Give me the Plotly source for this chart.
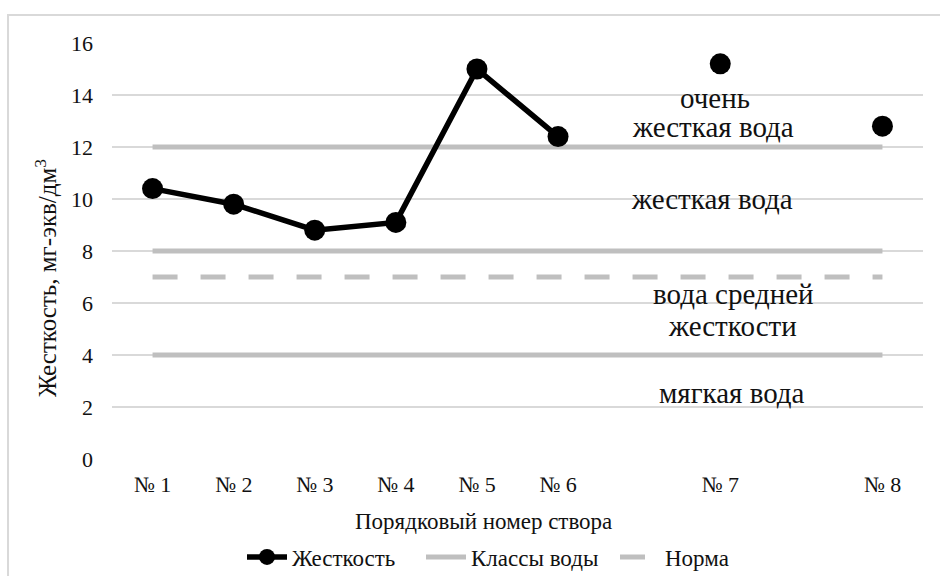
import plotly.graph_objects as go

# ---- data ----
stations = ["№ 1", "№ 2", "№ 3", "№ 4", "№ 5", "№ 6", "№ 7", "№ 8"]
station_pos = [1, 2, 3, 4, 5, 6, 8, 10]
hardness = [10.4, 9.8, 8.8, 9.1, 15.0, 12.4, 15.2, 12.8]
class_bounds = [12, 8, 4]
norm_value = 7
label_lines = ["очень", "жесткая вода", "жесткая вода", "вода средней", "жесткости", "мягкая вода"]
y_ticks = [0, 2, 4, 6, 8, 10, 12, 14, 16]

# label placement (layout, data coordinates)
label_x = [7.935, 7.91, 7.90, 8.16, 8.15, 8.14]
label_y = [13.88, 12.76, 9.99, 6.35, 5.12, 2.55]

FONT = "Times New Roman, Liberation Serif, serif"
TXT = "#111111"

# build hardness trace with gaps between non-adjacent stations
hx, hy = [], []
for i, (p, v) in enumerate(zip(station_pos, hardness)):
    if i > 0 and p - station_pos[i - 1] > 1:
        hx.append(None)
        hy.append(None)
    hx.append(p)
    hy.append(v)

x_start, x_end = station_pos[0], station_pos[-1]
cx, cy = [], []
for b in class_bounds:
    cx += [x_start, x_end, None]
    cy += [b, b, None]

fig = go.Figure()
fig.add_trace(go.Scatter(
    x=cx, y=cy, mode="lines", name="Классы воды", legend="legend2",
    line=dict(color="#BFBFBF", width=5), hoverinfo="skip"))
fig.add_trace(go.Scatter(
    x=[x_start, x_end], y=[norm_value, norm_value], mode="lines", name="Норма",
    legend="legend3",
    line=dict(color="#BFBFBF", width=5, dash="25px,23px"), hoverinfo="skip"))
fig.add_trace(go.Scatter(
    x=hx, y=hy, mode="lines+markers", name="Жесткость", legend="legend",
    line=dict(color="black", width=5.5),
    marker=dict(color="black", size=21), connectgaps=False))

ann = []
for t, xx, yy in zip(label_lines, label_x, label_y):
    ann.append(dict(x=xx, y=yy, xref="x", yref="y", text=t, showarrow=False,
                    font=dict(family=FONT, size=29, color=TXT), align="center"))
ann.append(dict(x=-0.0814, y=0.435, xref="paper", yref="paper",
                xanchor="center", yanchor="middle",
                text="Жесткость, мг-экв/дм<sup>3</sup>", textangle=-90, showarrow=False,
                font=dict(family=FONT, size=25, color=TXT)))
ann.append(dict(x=0.4575, y=-0.1514, xref="paper", yref="paper",
                xanchor="center", yanchor="middle",
                text="Порядковый номер створа", showarrow=False,
                font=dict(family=FONT, size=23, color=TXT)))

leg_common = dict(orientation="h", xref="container", yref="container",
                  xanchor="left", yanchor="middle", y=1 - 557 / 576,
                  font=dict(family=FONT, size=23, color=TXT), itemwidth=40,
                  bgcolor="rgba(0,0,0,0)")

fig.update_layout(
    width=940, height=576,
    margin=dict(l=112, r=17, t=43, b=117, autoexpand=False),
    paper_bgcolor="white", plot_bgcolor="white",
    font=dict(family=FONT, size=22, color=TXT),
    annotations=ann,
    showlegend=True,
    legend=dict(x=242 / 940, **leg_common),
    legend2=dict(x=421 / 940, **leg_common),
    legend3=dict(x=615 / 940, **leg_common),
    shapes=[dict(type="rect", xref="paper", yref="paper", x0=-0.1282, x1=1.2,
                 y0=-0.6, y1=1.0673, line=dict(color="#D9D9D9", width=2), layer="below")],
)
fig.update_xaxes(range=[0.5, 10.5], tickvals=station_pos, ticktext=stations,
                 showgrid=False, zeroline=False, showline=False, ticks="",
                 ticklabelstandoff=10, tickfont=dict(family=FONT, size=22, color=TXT))
fig.update_yaxes(range=[0, 16], tickvals=y_ticks, showgrid=True, gridcolor="#D9D9D9",
                 gridwidth=1.5, zeroline=False, showline=False, ticks="",
                 ticklabelstandoff=18, tickfont=dict(family=FONT, size=22, color=TXT))
fig.write_html("out.html", config={"displayModeBar": False},
               post_script="document.body.style.margin='0px';")
